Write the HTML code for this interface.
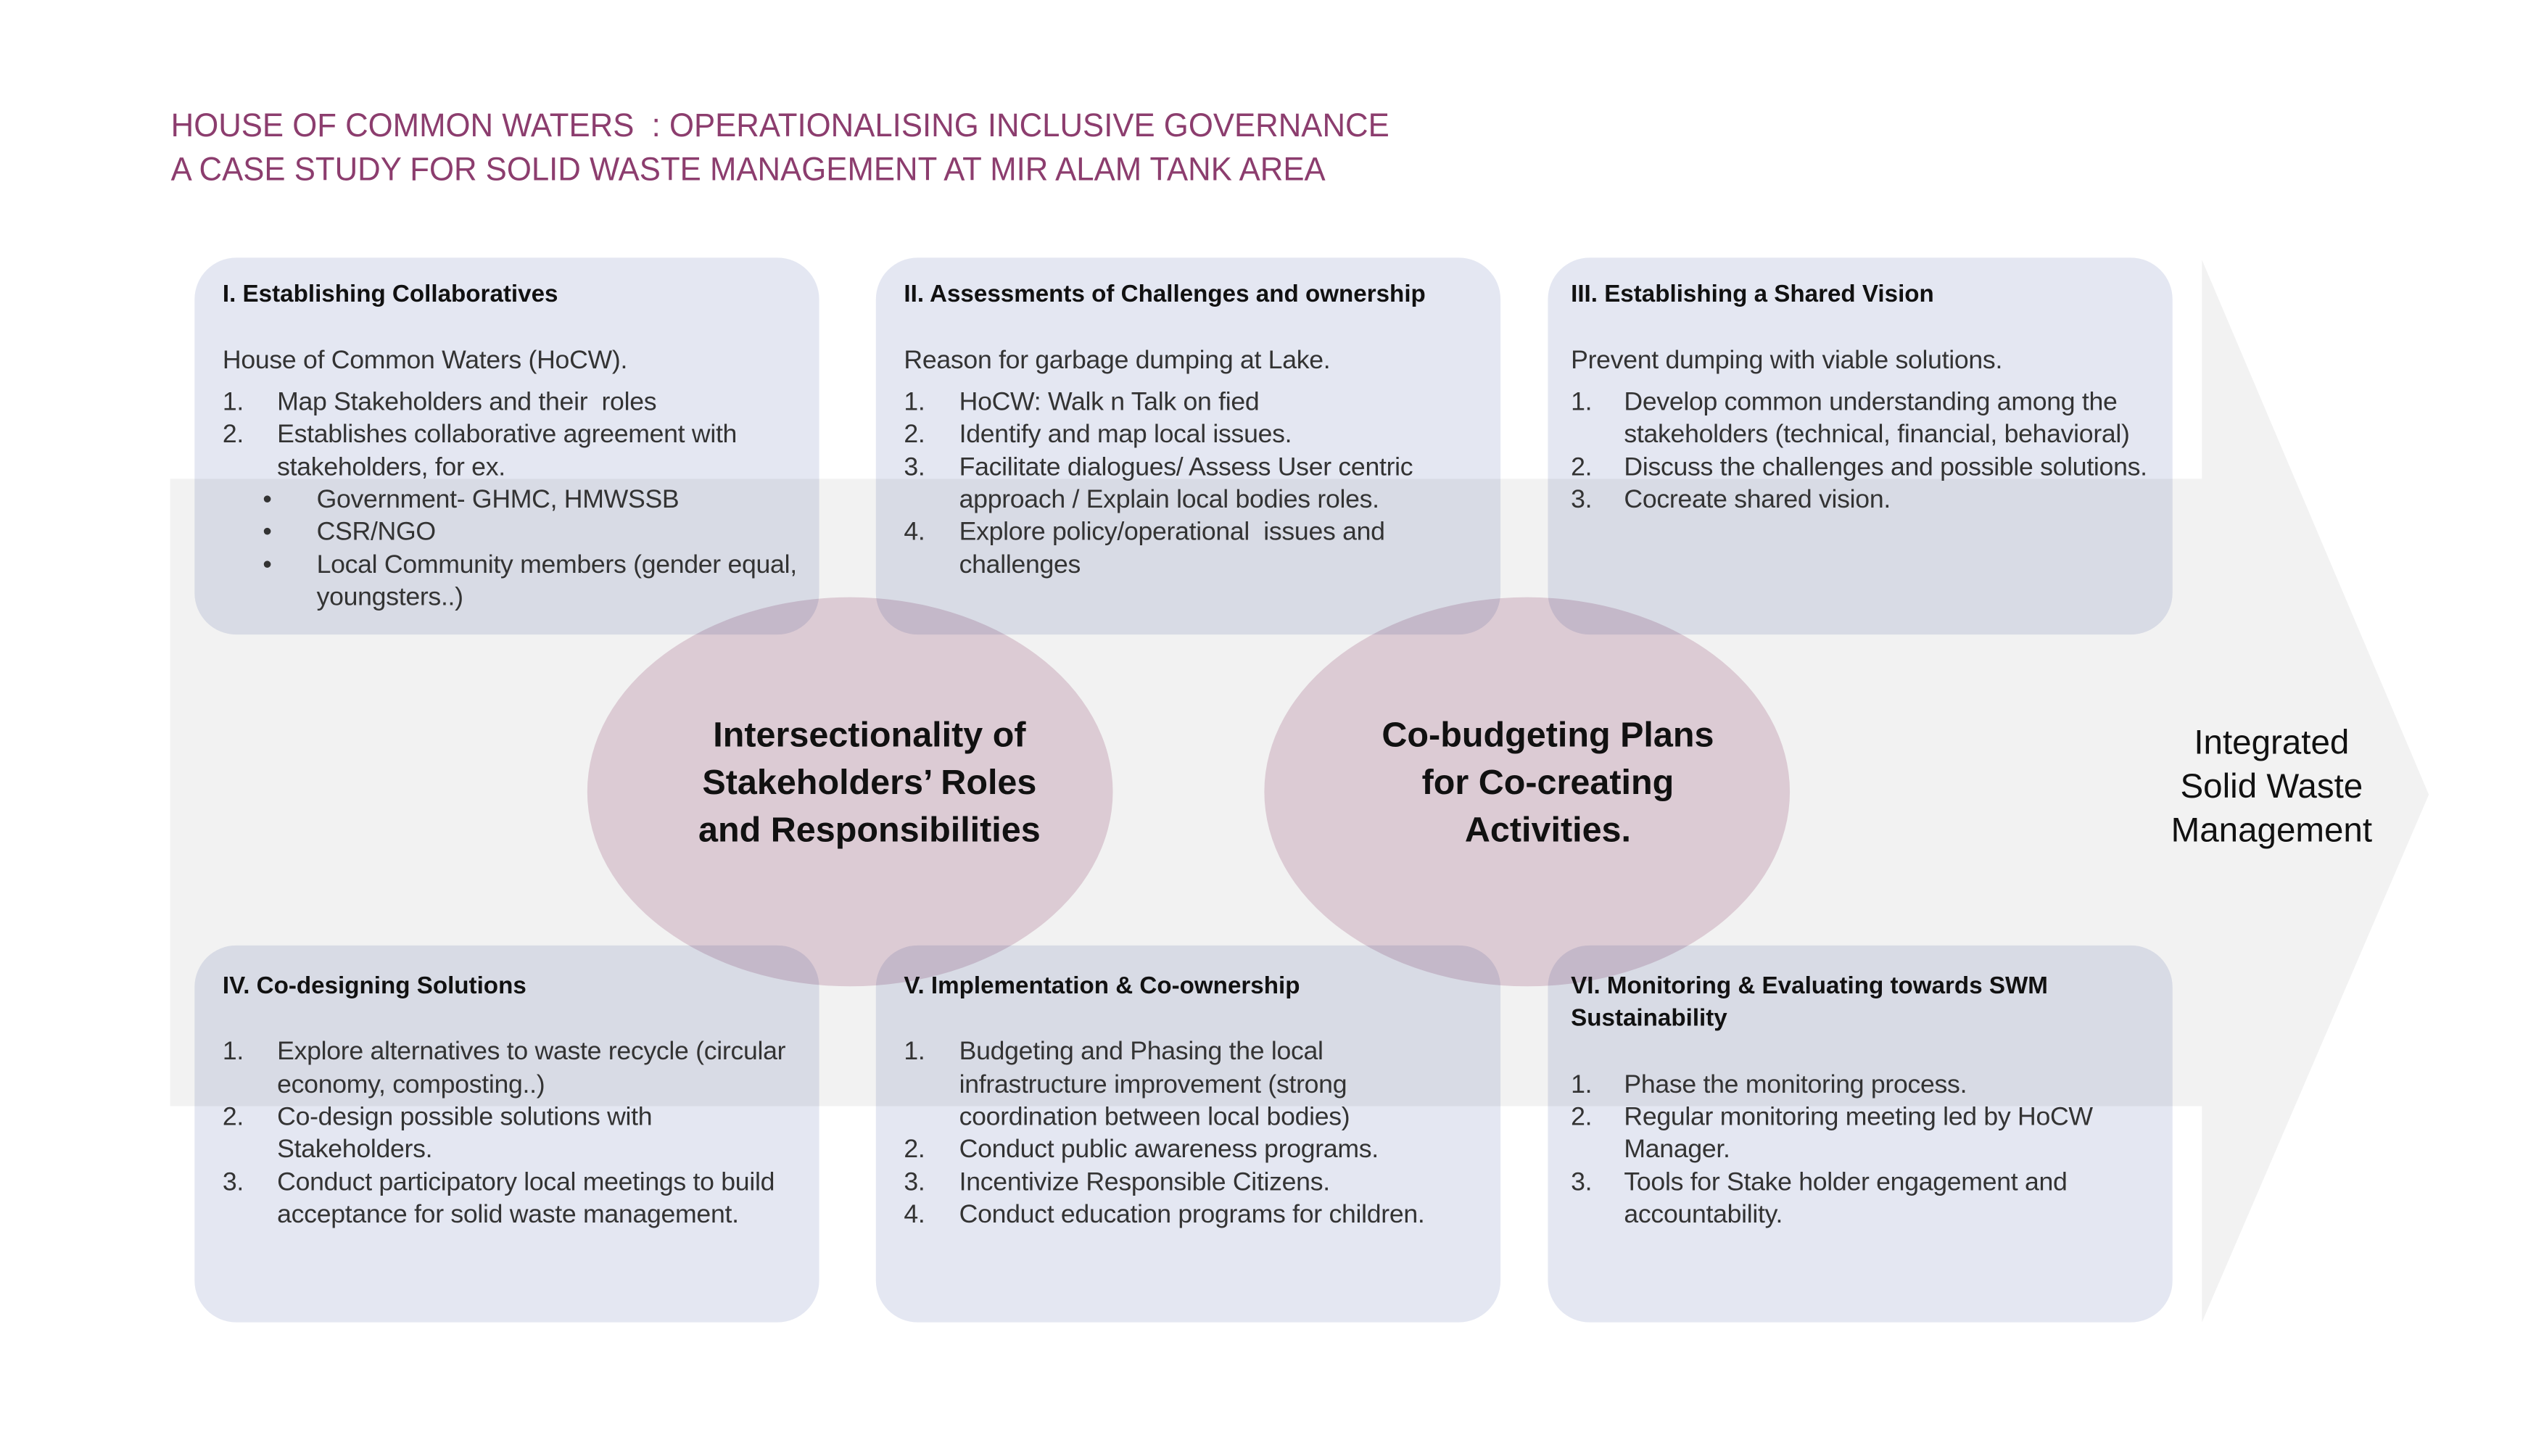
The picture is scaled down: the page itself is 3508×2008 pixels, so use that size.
<!DOCTYPE html>
<html><head><meta charset="utf-8"><style>
html,body{margin:0;padding:0;background:#fff}
#c{position:relative;width:3508px;height:2008px;overflow:hidden;background:#fff;font-family:"Liberation Sans",sans-serif}
#w{position:absolute;left:0;top:0;width:3508px;height:2008px;transform:scale(0.99);transform-origin:0 0}
.t{position:absolute;white-space:nowrap;color:#333;font-size:36px;line-height:45px;letter-spacing:-0.3px}
.h{font-weight:bold;color:#111;font-size:33.5px;letter-spacing:0}
.box{position:absolute;width:870px;height:525px;border-radius:58px;background:#e4e7f2;mix-blend-mode:multiply}
.ttl{position:absolute;left:238px;color:#8c3d6e;font-size:46px;line-height:60px;white-space:nowrap;transform:scaleX(0.96);transform-origin:left}
.el{position:absolute;text-align:center;font-weight:bold;color:#111;font-size:49px;line-height:66px;width:800px}
</style></head><body><div id="c"><div id="w">
<div class="ttl" style="top:144px">HOUSE OF COMMON WATERS &nbsp;: OPERATIONALISING INCLUSIVE GOVERNANCE</div>
<div class="ttl" style="top:205px">A CASE STUDY FOR SOLID WASTE MANAGEMENT AT MIR ALAM TANK AREA</div>

<svg width="3508" height="2008" style="position:absolute;left:0;top:0">
<rect x="237" y="667" width="2831" height="874" fill="#f2f2f2"/>
<polygon points="3067,362 3383,1107 3067,1842" fill="#f2f2f2"/>
</svg>
<div class="box" style="left:271px;top:359px"></div>
<div class="box" style="left:1220px;top:359px"></div>
<div class="box" style="left:2156px;top:359px"></div>
<div class="box" style="left:271px;top:1317px"></div>
<div class="box" style="left:1220px;top:1317px"></div>
<div class="box" style="left:2156px;top:1317px"></div>
<div style="position:absolute;left:818px;top:832px;width:732px;height:542px;border-radius:50%;background:#e8d6e0;mix-blend-mode:multiply"></div>
<div style="position:absolute;left:1761px;top:832px;width:732px;height:542px;border-radius:50%;background:#e8d6e0;mix-blend-mode:multiply"></div>

<!-- Box I -->
<div class="t h" style="left:310px;top:387px">I. Establishing Collaboratives</div>
<div class="t" style="left:310px;top:478px">House of Common Waters (HoCW).</div>
<div class="t" style="left:310px;top:536px">1.</div><div class="t" style="left:386px;top:536px">Map Stakeholders and their&nbsp; roles</div>
<div class="t" style="left:310px;top:581px">2.</div><div class="t" style="left:386px;top:581px">Establishes collaborative agreement with</div>
<div class="t" style="left:386px;top:627px">stakeholders, for ex.</div>
<div class="t" style="left:366px;top:672px">•</div><div class="t" style="left:441px;top:672px">Government- GHMC, HMWSSB</div>
<div class="t" style="left:366px;top:717px">•</div><div class="t" style="left:441px;top:717px">CSR/NGO</div>
<div class="t" style="left:366px;top:763px">•</div><div class="t" style="left:441px;top:763px">Local Community members (gender equal,</div>
<div class="t" style="left:441px;top:808px">youngsters..)</div>

<!-- Box II -->
<div class="t h" style="left:1259px;top:387px">II. Assessments of Challenges and ownership</div>
<div class="t" style="left:1259px;top:478px">Reason for garbage dumping at Lake.</div>
<div class="t" style="left:1259px;top:536px">1.</div><div class="t" style="left:1336px;top:536px">HoCW: Walk n Talk on fied</div>
<div class="t" style="left:1259px;top:581px">2.</div><div class="t" style="left:1336px;top:581px">Identify and map local issues.</div>
<div class="t" style="left:1259px;top:627px">3.</div><div class="t" style="left:1336px;top:627px">Facilitate dialogues/ Assess User centric</div>
<div class="t" style="left:1336px;top:672px">approach / Explain local bodies roles.</div>
<div class="t" style="left:1259px;top:717px">4.</div><div class="t" style="left:1336px;top:717px">Explore policy/operational&nbsp; issues and</div>
<div class="t" style="left:1336px;top:763px">challenges</div>

<!-- Box III -->
<div class="t h" style="left:2188px;top:387px">III. Establishing a Shared Vision</div>
<div class="t" style="left:2188px;top:478px">Prevent dumping with viable solutions.</div>
<div class="t" style="left:2188px;top:536px">1.</div><div class="t" style="left:2262px;top:536px">Develop common understanding among the</div>
<div class="t" style="left:2262px;top:581px">stakeholders (technical, financial, behavioral)</div>
<div class="t" style="left:2188px;top:627px">2.</div><div class="t" style="left:2262px;top:627px">Discuss the challenges and possible solutions.</div>
<div class="t" style="left:2188px;top:672px">3.</div><div class="t" style="left:2262px;top:672px">Cocreate shared vision.</div>

<!-- Box IV -->
<div class="t h" style="left:310px;top:1351px">IV. Co-designing Solutions</div>
<div class="t" style="left:310px;top:1441px">1.</div><div class="t" style="left:386px;top:1441px">Explore alternatives to waste recycle (circular</div>
<div class="t" style="left:386px;top:1487px">economy, composting..)</div>
<div class="t" style="left:310px;top:1532px">2.</div><div class="t" style="left:386px;top:1532px">Co-design possible solutions with</div>
<div class="t" style="left:386px;top:1577px">Stakeholders.</div>
<div class="t" style="left:310px;top:1623px">3.</div><div class="t" style="left:386px;top:1623px">Conduct participatory local meetings to build</div>
<div class="t" style="left:386px;top:1668px">acceptance for solid waste management.</div>

<!-- Box V -->
<div class="t h" style="left:1259px;top:1351px">V. Implementation &amp; Co-ownership</div>
<div class="t" style="left:1259px;top:1441px">1.</div><div class="t" style="left:1336px;top:1441px">Budgeting and Phasing the local</div>
<div class="t" style="left:1336px;top:1487px">infrastructure improvement (strong</div>
<div class="t" style="left:1336px;top:1532px">coordination between local bodies)</div>
<div class="t" style="left:1259px;top:1577px">2.</div><div class="t" style="left:1336px;top:1577px">Conduct public awareness programs.</div>
<div class="t" style="left:1259px;top:1623px">3.</div><div class="t" style="left:1336px;top:1623px">Incentivize Responsible Citizens.</div>
<div class="t" style="left:1259px;top:1668px">4.</div><div class="t" style="left:1336px;top:1668px">Conduct education programs for children.</div>

<!-- Box VI -->
<div class="t h" style="left:2188px;top:1351px">VI. Monitoring &amp; Evaluating towards SWM</div>
<div class="t h" style="left:2188px;top:1396px">Sustainability</div>
<div class="t" style="left:2188px;top:1487px">1.</div><div class="t" style="left:2262px;top:1487px">Phase the monitoring process.</div>
<div class="t" style="left:2188px;top:1532px">2.</div><div class="t" style="left:2262px;top:1532px">Regular monitoring meeting led by HoCW</div>
<div class="t" style="left:2262px;top:1577px">Manager.</div>
<div class="t" style="left:2188px;top:1623px">3.</div><div class="t" style="left:2262px;top:1623px">Tools for Stake holder engagement and</div>
<div class="t" style="left:2262px;top:1668px">accountability.</div>

<div class="el" style="left:811px;top:991px">Intersectionality of<br>Stakeholders’ Roles<br>and Responsibilities</div>
<div class="el" style="left:1756px;top:991px">Co-budgeting Plans<br>for Co-creating<br>Activities.</div>
<div style="position:absolute;left:2914px;top:1004px;width:500px;text-align:center;font-size:48px;line-height:61px;color:#111">Integrated<br>Solid Waste<br>Management</div>
</div></div></body></html>
